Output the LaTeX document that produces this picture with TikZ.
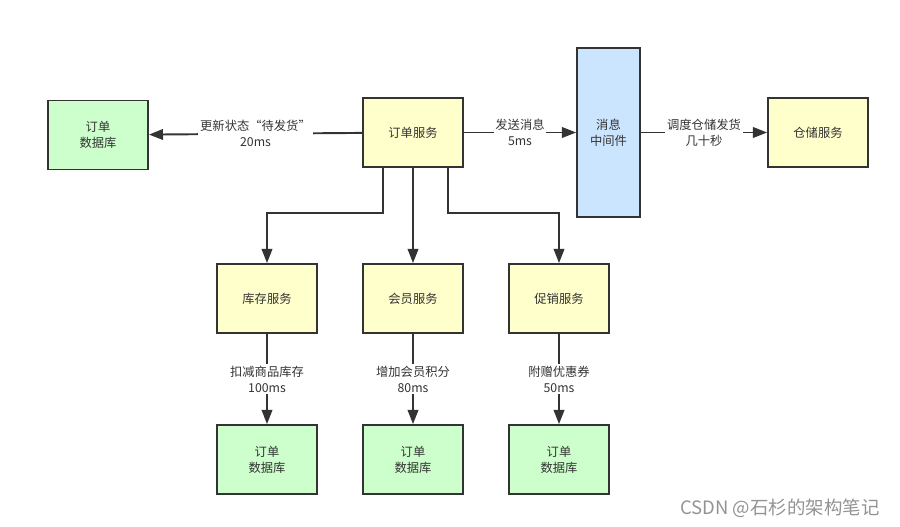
\documentclass[tikz,border=0pt]{standalone}
\usepackage{fontspec}
\setmainfont{Noto Sans CJK SC}
\usetikzlibrary{arrows.meta}

\definecolor{dbgreen}{HTML}{CCFFCC}
\definecolor{svcyellow}{HTML}{FFFFCC}
\definecolor{mqblue}{HTML}{CCE5FF}
\definecolor{edge}{HTML}{333333}

\begin{document}
\begin{tikzpicture}[x=0.02cm,y=-0.02cm]
\tikzstyle{every node}+=[font=\fontsize{7}{9}\selectfont, text=edge]
\tikzstyle{box}=[draw=edge, line width=1.1pt, minimum width=2cm, minimum height=1.38cm, align=center, inner sep=0pt]
\tikzstyle{db}=[box, fill=dbgreen]
\tikzstyle{svc}=[box, fill=svcyellow]
\tikzstyle{arr}=[draw=edge, line width=1.1pt, -{Triangle[length=8pt,width=6pt]}]
\tikzstyle{lbl}=[fill=white, align=center, inner sep=1pt]
\useasboundingbox (0,0) rectangle (900,527);

\node[db] (orderdb) at (98,135) {订单\\数据库};
\node[svc] (order) at (413,132.5) {订单服务};
\node[box, fill=mqblue, minimum width=1.26cm, minimum height=3.38cm] (mq) at (608.5,132.5) {消息\\中间件};
\node[svc] (wms) at (818,132.5) {仓储服务};

\node[svc] (stock) at (267,298.5) {库存服务};
\node[svc] (member) at (413,298.5) {会员服务};
\node[svc] (promo) at (559,298.5) {促销服务};

\node[db] (stockdb) at (267,459.5) {订单\\数据库};
\node[db] (memberdb) at (413,459.5) {订单\\数据库};
\node[db] (promodb) at (559,459.5) {订单\\数据库};

% top row
\draw[arr] (order) -- node[lbl] {更新状态“待发货”\\20ms} (orderdb);
\draw[arr] (order) -- node[lbl] {发送消息\\5ms} (mq);
\draw[arr] (mq) -- node[lbl] {调度仓储发货\\几十秒} (wms);

% fan out
\coordinate (left) at (383,213);
\coordinate (right) at (448,213);
\draw[arr] (order.south -| left) -- (left) -| (stock);
\draw[arr] (order) -- (member);
\draw[arr] (order.south -| right) -- (right) -| (promo);

% down to the databases
\draw[arr] (stock) -- node[lbl] {扣减商品库存\\100ms} (stockdb);
\draw[arr] (member) -- node[lbl] {增加会员积分\\80ms} (memberdb);
\draw[arr] (promo) -- node[lbl] {附赠优惠券\\50ms} (promodb);

\node[font=\fontsize{10.5}{12}\selectfont, text=gray!85] (mark) at (780,508) {CSDN @石杉的架构笔记};
\end{tikzpicture}
\end{document}
